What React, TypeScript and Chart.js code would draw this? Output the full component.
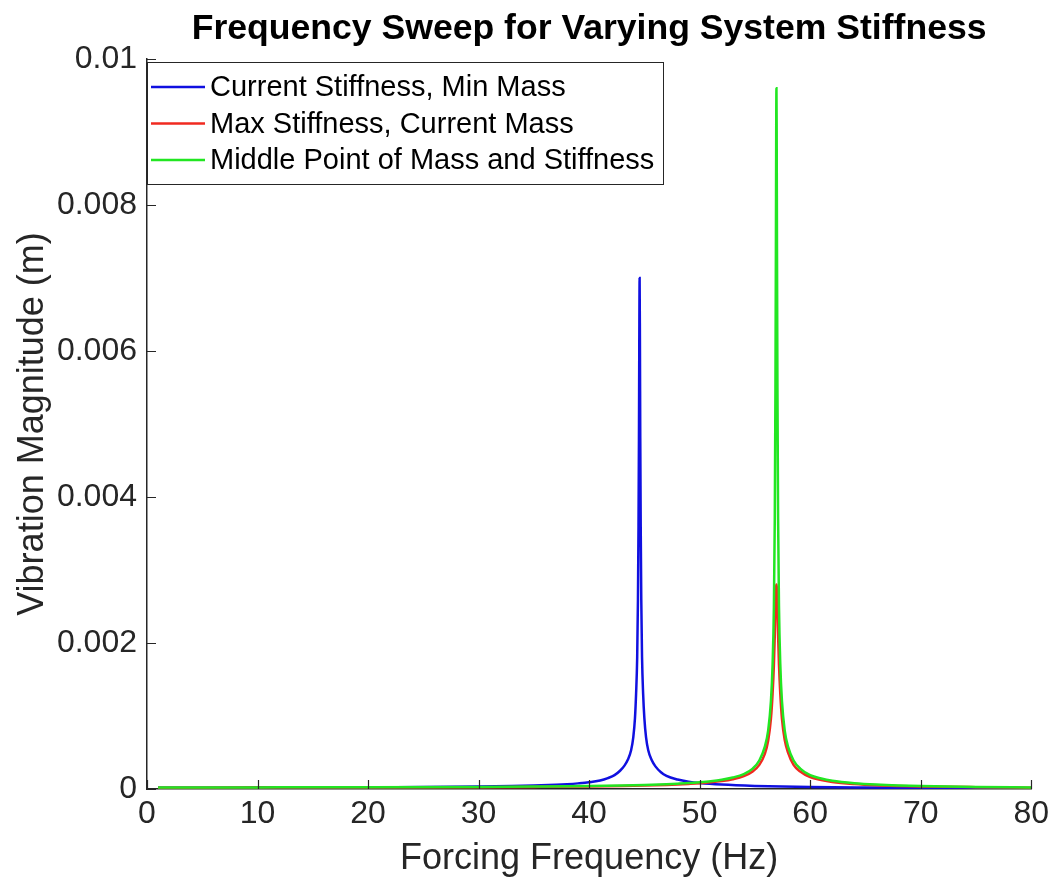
import React, { useEffect, useRef } from 'react';
import { Chart, registerables } from 'chart.js';

Chart.register(...registerables);

// ---- data ----
const blueFreq = [1, 5, 10, 15, 20, 25, 30, 33, 35, 37, 38, 39, 40, 41, 41.7, 42.3, 42.8, 43.2, 43.5, 43.8, 44.0, 44.15, 44.25, 44.35, 44.42, 44.47, 44.51, 44.54, 44.57, 44.6, 44.63, 44.67, 44.72, 44.79, 44.89, 45.0, 45.15, 45.35, 45.65, 46.0, 46.5, 47, 48, 49, 50, 52, 55, 60, 65, 70, 75, 80];
const blueMag = [0.000018, 0.000018, 0.000019, 0.00002, 0.000022, 0.000026, 0.000033, 0.00004, 0.000047, 0.000058, 0.000066, 0.000077, 0.000092, 0.000117, 0.00015, 0.00019, 0.00025, 0.00032, 0.0004, 0.00053, 0.00071, 0.00097, 0.0013, 0.0018, 0.0026, 0.0036, 0.0048, 0.0061, 0.007, 0.0061, 0.0048, 0.0036, 0.0026, 0.0018, 0.0013, 0.00097, 0.00071, 0.00053, 0.0004, 0.00031, 0.00023, 0.00018, 0.00013, 0.0001, 0.000082, 0.00006, 0.000042, 0.000026, 0.000019, 0.000015, 0.000012, 0.00001];

const sharedFreq = [1, 10, 20, 30, 35, 40, 43, 45, 47, 48, 49, 50, 51, 52, 53, 54, 54.8, 55.4, 55.9, 56.2, 56.45, 56.6, 56.72, 56.8, 56.86, 56.9, 56.93, 56.95, 56.97, 57.0, 57.04, 57.1, 57.18, 57.3, 57.45, 57.7, 58.0, 58.5, 59.1, 60, 61, 62, 64, 66, 68, 70, 75, 80];
const redMag = [0.000018, 0.000019, 0.000021, 0.000025, 0.000029, 0.000035, 0.000042, 0.000048, 0.000056, 0.000062, 0.00007, 0.000079, 0.000091, 0.000108, 0.000134, 0.000176, 0.00024, 0.00033, 0.00048, 0.00066, 0.00096, 0.0013, 0.0017, 0.0021, 0.0025, 0.0027, 0.0028, 0.0028, 0.0028, 0.0027, 0.0025, 0.0021, 0.0017, 0.0013, 0.00096, 0.00067, 0.0005, 0.00033, 0.00024, 0.000162, 0.000123, 0.000097, 0.000069, 0.000052, 0.000042, 0.000035, 0.000025, 0.000018];
const greenMag = [0.000021, 0.000022, 0.000024, 0.000029, 0.000034, 0.000041, 0.000049, 0.000056, 0.000066, 0.000073, 0.000081, 0.000092, 0.000106, 0.000126, 0.000157, 0.000205, 0.00028, 0.00039, 0.00058, 0.0008, 0.0012, 0.0017, 0.0025, 0.0037, 0.0055, 0.0074, 0.0091, 0.0096, 0.0091, 0.0074, 0.0055, 0.0037, 0.0025, 0.0017, 0.0012, 0.0008, 0.00058, 0.00039, 0.00028, 0.000189, 0.000143, 0.000113, 0.00008, 0.000061, 0.000049, 0.000041, 0.000029, 0.000022];

const seriesNames = ['Current Stiffness, Min Mass', 'Max Stiffness, Current Mass', 'Middle Point of Mass and Stiffness'];
const xTicks = [0, 10, 20, 30, 40, 50, 60, 70, 80];
const yTicks = [0, 0.002, 0.004, 0.006, 0.008, 0.01];
const yTickLabels = ['0', '0.002', '0.004', '0.006', '0.008', '0.01'];

const titleText = 'Frequency Sweep for Varying System Stiffness';
const xTitle = 'Forcing Frequency (Hz)';
const yTitle = 'Vibration Magnitude (m)';

// ---- styles ----
const colors = ['#1010e0', '#f02a20', '#22e622'];
const axisColor = '#262626';
const FONT = '"Liberation Sans", Arial, Helvetica, sans-serif';

const toPoints = (xs: number[], ys: number[]) => xs.map((x, i) => ({ x, y: ys[i] }));

const decorPlugin = {
  id: 'decor',
  afterDraw(chart: any) {
    const { ctx, chartArea, scales } = chart;
    const { left, right, bottom } = chartArea;
    ctx.save();
    // inward ticks
    ctx.strokeStyle = axisColor;
    ctx.lineWidth = 1.2;
    ctx.beginPath();
    xTicks.forEach((v) => {
      const px = Math.round(scales.x.getPixelForValue(v)) + 0.5;
      ctx.moveTo(px, bottom);
      ctx.lineTo(px, bottom - 9);
    });
    yTicks.forEach((v) => {
      const py = Math.round(scales.y.getPixelForValue(v)) + 0.5;
      ctx.moveTo(left, py);
      ctx.lineTo(left + 9, py);
    });
    ctx.stroke();

    // title
    ctx.fillStyle = '#000';
    ctx.font = `bold 35.6px ${FONT}`;
    ctx.textAlign = 'center';
    ctx.textBaseline = 'middle';
    ctx.fillText(titleText, (left + right) / 2, 29);

    // legend
    const bx = left, by = 62, bw = 516, bh = 122;
    ctx.fillStyle = '#fff';
    ctx.fillRect(bx, by, bw, bh);
    ctx.strokeStyle = axisColor;
    ctx.lineWidth = 1;
    ctx.strokeRect(bx + 0.5, by + 0.5, bw, bh);
    const rows = [87, 123.5, 160];
    ctx.font = `29px ${FONT}`;
    ctx.textAlign = 'left';
    ctx.textBaseline = 'middle';
    seriesNames.forEach((name, i) => {
      ctx.strokeStyle = colors[i];
      ctx.lineWidth = 2.5;
      ctx.beginPath();
      ctx.moveTo(bx + 4, rows[i]);
      ctx.lineTo(bx + 58, rows[i]);
      ctx.stroke();
      ctx.fillStyle = '#000';
      ctx.fillText(name, bx + 63, rows[i] + 1);
    });
    ctx.restore();
  },
};

export default function App() {
  const ref = useRef<HTMLCanvasElement | null>(null);

  useEffect(() => {
    document.body.style.margin = '0';
    const canvas = ref.current;
    if (!canvas) return;
    const ds = (i: number, xs: number[], ys: number[], order: number) => ({
      label: seriesNames[i],
      data: toPoints(xs, ys),
      borderColor: colors[i],
      borderWidth: 2.5,
      pointRadius: 0,
      fill: false,
      order,
      cubicInterpolationMode: 'monotone',
    });
    const chart = new Chart(canvas, {
      type: 'line',
      data: {
        datasets: [
          ds(0, blueFreq, blueMag, 2),
          ds(1, sharedFreq, redMag, 1),
          ds(2, sharedFreq, greenMag, 0),
        ],
      },
      options: {
        animation: false,
        responsive: false,
        devicePixelRatio: 1,
        layout: { padding: { top: 59, right: 23, left: 0, bottom: 0 } },
        plugins: { legend: { display: false }, tooltip: { enabled: false }, title: { display: false } },
        scales: {
          x: {
            type: 'linear',
            min: 0,
            max: 80,
            afterBuildTicks: (s: any) => { s.ticks = xTicks.map((v) => ({ value: v })); },
            afterFit: (s: any) => { s.height = 99; },
            grid: { display: false, drawTicks: false, tickLength: 0 },
            border: { display: true, color: axisColor, width: 1.5 },
            ticks: { color: axisColor, font: { family: FONT, size: 32 }, padding: 6, maxRotation: 0, autoSkip: false },
            title: { display: true, text: xTitle, color: axisColor, font: { family: FONT, size: 36 }, padding: { top: 0, bottom: 7 } },
          },
          y: {
            type: 'linear',
            min: 0,
            max: 0.01,
            afterBuildTicks: (s: any) => { s.ticks = yTicks.map((v) => ({ value: v })); },
            afterFit: (s: any) => { s.width = 147; },
            grid: { display: false, drawTicks: false, tickLength: 0 },
            border: { display: true, color: axisColor, width: 1.5 },
            ticks: {
              color: axisColor,
              font: { family: FONT, size: 32 },
              padding: 10,
              autoSkip: false,
              callback: (v: any) => {
                const idx = yTicks.findIndex((t) => Math.abs(t - Number(v)) < 1e-9);
                return idx >= 0 ? yTickLabels[idx] : '';
              },
            },
            title: { display: true, text: yTitle, color: axisColor, font: { family: FONT, size: 36 }, padding: { top: 11, bottom: 0 } },
          },
        },
      },
      plugins: [decorPlugin],
    } as any);
    return () => chart.destroy();
  }, []);

  return (
    <div style={{ position: 'absolute', left: 0, top: 0, width: 1055, height: 888, background: '#fff' }}>
      <canvas ref={ref} width={1055} height={888} />
    </div>
  );
}
